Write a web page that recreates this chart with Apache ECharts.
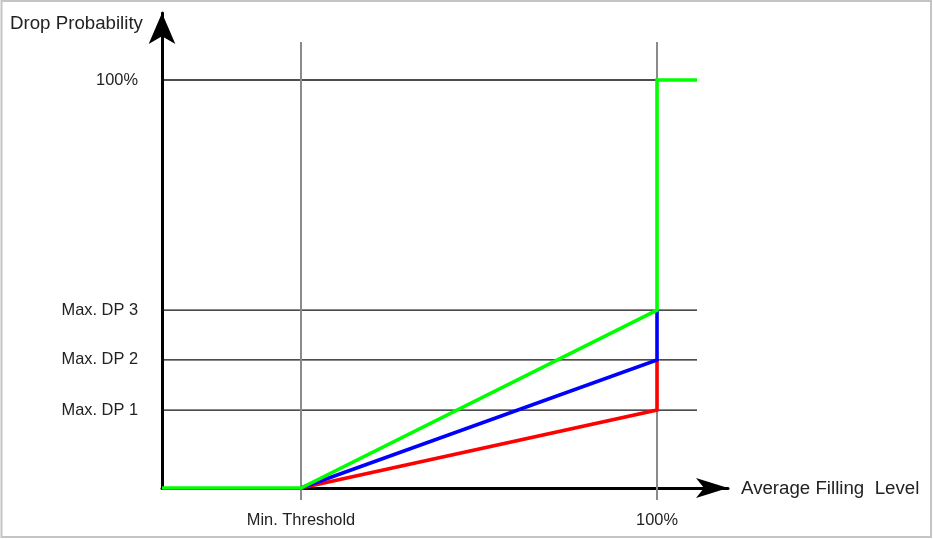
<!DOCTYPE html>
<html>
<head>
<meta charset="utf-8">
<script src="https://cdn.jsdelivr.net/npm/echarts@6/dist/echarts.min.js"></script>
<style>
html,body{margin:0;padding:0;background:#fff;}
#chart{width:933px;height:539px;}
</style>
</head>
<body>
<div id="chart"></div>
<script>
// ---- data ----
var xTickValues = [28.08, 100];
var xTickLabels = ['Min. Threshold', '100%'];
var yTickValues = [19.1, 31.4, 43.6, 100];
var yTickLabels = ['Max. DP 1', 'Max. DP 2', 'Max. DP 3', '100%'];
var redLine   = [[28.08, 0], [100, 19.1], [100, 31.4]];
var blueLine  = [[28.08, 0], [100, 31.4], [100, 43.6]];
var greenLine = [[0, 0], [28.08, 0], [100, 43.6], [100, 100], [108.08, 100]];
var xAxisName = 'Average Filling  Level';
var yAxisName = 'Drop Probability';

var FONT = "'Liberation Sans', Arial, sans-serif";
var FS_TICK = 16.4;
var FS_NAME = 18.7;

var chart = echarts.init(document.getElementById('chart'), null, {renderer: 'canvas'});

var series = [];
// horizontal grid lines
yTickValues.forEach(function (v) {
  series.push({
    type: 'line', clip: false, silent: true, symbol: 'none', z: 1,
    lineStyle: {color: '#111', width: 1.3},
    data: [[-2.42, v], [108.08, v]]
  });
});
// vertical grid lines
xTickValues.forEach(function (v) {
  series.push({
    type: 'line', clip: false, silent: true, symbol: 'none', z: 1,
    lineStyle: {color: '#8a8a8a', width: 2},
    data: [[v, -2.94], [v, 109.3]]
  });
});
function curve(data, color) {
  return {
    type: 'line', clip: false, symbol: 'none', z: 5,
    lineStyle: {color: color, width: 3.6, join: 'miter'},
    data: data
  };
}
series.push(curve(redLine, '#ff0000'));
series.push(curve(blueLine, '#0000ff'));
series.push(curve(greenLine, '#00ff00'));

chart.setOption({
  animation: false,
  backgroundColor: '#ffffff',
  grid: {left: 162, top: 13, right: 205, bottom: 51, containLabel: false},
  xAxis: {
    type: 'value', min: 0, max: 114.34,
    axisLine: {show: true, onZero: false, symbol: ['none', 'arrow'], symbolSize: [15, 32],
      lineStyle: {color: '#000', width: 3}},
    axisTick: {show: false},
    splitLine: {show: false},
    axisLabel: {
      customValues: xTickValues, margin: 24,
      fontFamily: FONT, fontSize: FS_TICK, color: '#222',
      formatter: function (v) { return xTickLabels[xTickValues.indexOf(v)]; }
    }
  },
  yAxis: {
    type: 'value', min: 0, max: 116.42,
    axisLine: {show: true, onZero: false, symbol: ['none', 'arrow'], symbolSize: [20, 31],
      lineStyle: {color: '#000', width: 3}},
    axisTick: {show: false},
    splitLine: {show: false},
    axisLabel: {
      customValues: yTickValues, margin: 24,
      fontFamily: FONT, fontSize: FS_TICK, color: '#222',
      formatter: function (v) { return yTickLabels[yTickValues.indexOf(v)]; }
    }
  },
  graphic: [
    {type: 'rect', silent: true, shape: {x: 1.5, y: 1, width: 929.5, height: 536},
      style: {fill: 'none', stroke: '#c4c4c4', lineWidth: 2}},
    {type: 'text', left: 10, top: 14, style: {text: yAxisName, font: FS_NAME + 'px ' + FONT, fill: '#222'}},
    {type: 'text', left: 741, top: 479, style: {text: xAxisName, font: FS_NAME + 'px ' + FONT, fill: '#222'}}
  ],
  series: series
});
</script>
</body>
</html>
